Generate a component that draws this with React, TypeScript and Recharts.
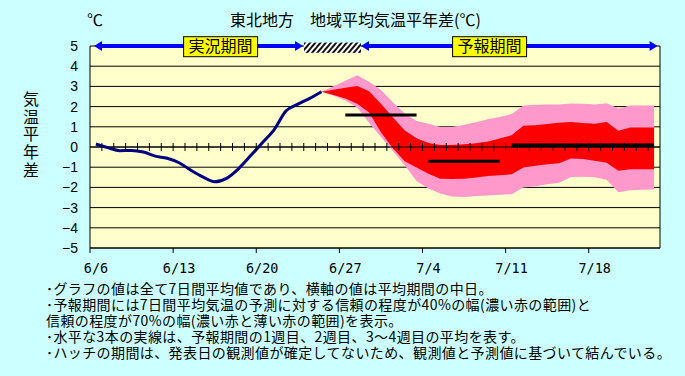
import React from 'react';
import {
  ComposedChart, Area, Line, Scatter, XAxis, YAxis, CartesianGrid,
  ReferenceLine, ReferenceArea, ReferenceDot,
} from 'recharts';

// ---- data ----
const xLabels = ['6/6', '6/13', '6/20', '6/27', '7/4', '7/11', '7/18'];
const yTicks = [-5, -4, -3, -2, -1, 0, 1, 2, 3, 4, 5];
const dayCount = 48; // 6/6 .. 7/23

// observed 7-day mean anomaly, 6/6 .. 6/25
const observed = [0.15, -0.03, -0.18, -0.17, -0.25, -0.45, -0.56, -0.78, -1.15, -1.48,
  -1.72, -1.55, -1.08, -0.45, 0.2, 0.85, 1.78, 2.12, 2.41, 2.74];

// forecast bands, 6/25 .. 7/23
const forecastStart = 19;
const pinkUpper = [2.74, 3.01, 3.28, 3.55, 3.23, 2.82, 2.22, 1.66, 1.29, 1.15, 0.99, 0.99,
  1.1, 1.23, 1.37, 1.49, 1.62, 2.05, 2.09, 2.1, 2.11, 2.15, 2.14, 2.11, 2.16, 1.9, 2.06, 2.06, 2.06];
const redUpper = [2.74, 2.83, 2.93, 3.02, 2.76, 2.14, 1.47, 0.82, 0.43, 0.2, 0.1, 0.1,
  0.13, 0.18, 0.27, 0.42, 0.58, 1.05, 1.08, 1.14, 1.2, 1.24, 1.19, 1.15, 1.24, 0.8, 0.96, 0.96, 0.96];
const redLower = [2.74, 2.57, 2.4, 2.14, 1.71, 0.73, -0.06, -0.7, -1.02, -1.33, -1.57, -1.59,
  -1.57, -1.51, -1.44, -1.4, -1.35, -1.01, -0.93, -0.86, -0.8, -0.57, -0.59, -0.68, -0.78, -1.17, -1.1, -1.1, -1.1];
const pinkLower = [2.74, 2.55, 2.3, 1.95, 1.2, 0.5, -0.2, -0.9, -1.68, -2.05, -2.3, -2.45,
  -2.47, -2.42, -2.4, -2.37, -2.34, -2.0, -1.94, -1.85, -1.77, -1.48, -1.47, -1.5, -1.62, -2.24, -2.14, -2.12, -2.1];

// week means (1st week, 2nd week, 3rd-4th week)
const weekMeans = [1.58, -0.71, 0.08];
const weekStart = [21, 28, 35];
const weekEnd = [27, 34, 47];

// period annotations (in day-index units)
const obsPeriod = [-0.16, 17.44];
const hatchPeriod = [17.52, 22.32];
const fcPeriod = [22.32, 47.3];
const obsLabelPos = 10.5;
const fcLabelPos = 33.15;

const notes = [
  '･グラフの値は全て7日間平均値であり、横軸の値は平均期間の中日。',
  '･予報期間には7日間平均気温の予測に対する信頼の程度が40%の幅(濃い赤の範囲)と',
  '信頼の程度が70%の幅(濃い赤と薄い赤の範囲)を表示。',
  '･水平な3本の実線は、予報期間の1週目、2週目、3～4週目の平均を表す。',
  '･ハッチの期間は、発表日の観測値が確定してないため、観測値と予測値に基づいて結んでいる。',
];

const data = Array.from({ length: dayCount }, (_, i) => {
  const f = i - forecastStart;
  const inF = f >= 0 && f < pinkUpper.length;
  const row: any = {
    i,
    obs: i < observed.length ? observed[i] : null,
    pink: inF ? [pinkLower[f], pinkUpper[f]] : null,
    red: inF ? [redLower[f], redUpper[f]] : null,
  };
  weekMeans.forEach((m, k) => {
    row['w' + k] = i >= weekStart[k] && i <= weekEnd[k] ? m : null;
  });
  return row;
});

const xTickPos = xLabels.map((_, k) => k * 7 - 0.5);
const zeroTicks = Array.from({ length: dayCount - 1 }, (_, k) => ({ i: k + 0.5, z: 0 }));

const JP = '"Noto Sans CJK JP", sans-serif';

const XTick = (props: any) => {
  const { x, y, payload } = props;
  const idx = Math.round((payload.value + 0.5) / 7);
  return (
    <text x={x + 6} y={y} dy="0.71em" textAnchor="middle" fontFamily='"DejaVu Sans Mono", monospace'
      fontSize={13.5} fill="#000">{xLabels[idx]}</text>
  );
};

const Arrow = (p: any) => {
  const { x1, y1, x2 } = p;
  const h = 8, w = 5;
  return (
    <g>
      <line x1={x1 + h - 1} y1={y1} x2={x2 - h + 1} y2={y1} stroke="#0000FF" strokeWidth={4} />
      <polygon points={`${x1},${y1} ${x1 + h},${y1 - w} ${x1 + h},${y1 + w}`} fill="#0000FF" />
      <polygon points={`${x2},${y1} ${x2 - h},${y1 - w} ${x2 - h},${y1 + w}`} fill="#0000FF" />
    </g>
  );
};

const Hatch = (p: any) => {
  const { x, y, width, height } = p;
  return (
    <g>
      <defs>
        <pattern id="hatchPat" width="4" height="4" patternUnits="userSpaceOnUse" patternTransform="rotate(40)">
          <rect width="4" height="4" fill="#ffffff" />
          <rect width="2" height="4" fill="#111111" />
        </pattern>
      </defs>
      <rect x={x} y={y} width={width} height={height} fill="url(#hatchPat)" />
    </g>
  );
};

const LabelBox = (text: string) => (p: any) => {
  const { cx, cy } = p;
  const bw = 74, bh = 20;
  return (
    <g>
      <rect x={cx - bw / 2} y={cy - bh / 2 + 0.7} width={bw} height={bh} fill="#FFFF00" stroke="#000" strokeWidth={1} />
      <text x={cx} y={cy + 0.7} dy="0.36em" textAnchor="middle" fontFamily={JP} fontSize={16} fill="#000">{text}</text>
    </g>
  );
};

const ZeroTick = (p: any) => {
  const { cx, cy } = p;
  return <line x1={cx} x2={cx} y1={cy - 4} y2={cy + 4} stroke="#000" strokeWidth={1} />;
};

export default function App() {
  return (
    <div style={{ position: 'absolute', left: 0, top: 0, width: 685, height: 376, background: '#CCFFFF', overflow: 'hidden' }}>
      <ComposedChart width={685} height={376} data={data}
        margin={{ top: 46, right: 25, bottom: 98, left: 40 }}>
        <CartesianGrid vertical={false} stroke="#000" strokeOpacity={1} fill="#FFFFCC" fillOpacity={1} />
        <XAxis dataKey="i" type="number" domain={[-0.5, dayCount - 0.5]} ticks={xTickPos}
          allowDataOverflow interval={0} height={30} tick={XTick}
          tickSize={5} tickMargin={10} axisLine={{ stroke: '#000' }} tickLine={{ stroke: '#000' }} />
        <YAxis type="number" domain={[-5, 5]} ticks={yTicks} interval={0} width={50}
          allowDataOverflow tickLine={false} tickSize={6} tickMargin={6}
          axisLine={{ stroke: '#000' }}
          tick={{ fontFamily: '"Liberation Sans", Arial, sans-serif', fontSize: 14, fill: '#000' }}
          tickFormatter={(v: number) => (v < 0 ? '\u2212' + Math.abs(v) : String(v))} />
        <Area dataKey="pink" type="linear" stroke="none" fill="#FF99CC" fillOpacity={1} isAnimationActive={false} />
        <Area dataKey="red" type="linear" stroke="none" fill="#FF0000" fillOpacity={1} isAnimationActive={false} />
        <ReferenceLine y={0} stroke="#000" strokeWidth={1} />
        <Scatter data={zeroTicks} dataKey="z" shape={ZeroTick} isAnimationActive={false} />
        <Line dataKey="obs" type="monotone" stroke="#000080" strokeWidth={3} dot={false} isAnimationActive={false} />
        <Line dataKey="w0" type="linear" stroke="#000" strokeWidth={3} dot={false} isAnimationActive={false} />
        <Line dataKey="w1" type="linear" stroke="#000" strokeWidth={3} dot={false} isAnimationActive={false} />
        <Line dataKey="w2" type="linear" stroke="#000" strokeWidth={4} dot={false} isAnimationActive={false} />
        <ReferenceLine x={dayCount - 0.5} stroke="#000" strokeWidth={1} ifOverflow="visible" />
        <ReferenceArea x1={hatchPeriod[0]} x2={hatchPeriod[1]} y1={4.66} y2={5.17} ifOverflow="visible" shape={Hatch} />
        <ReferenceLine segment={[{ x: obsPeriod[0], y: 5 }, { x: obsPeriod[1], y: 5 }]} ifOverflow="visible" shape={Arrow} />
        <ReferenceLine segment={[{ x: fcPeriod[0], y: 5 }, { x: fcPeriod[1], y: 5 }]} ifOverflow="visible" shape={Arrow} />
        <ReferenceDot x={obsLabelPos} y={5} r={0} ifOverflow="visible" shape={LabelBox('実況期間')} />
        <ReferenceDot x={fcLabelPos} y={5} r={0} ifOverflow="visible" shape={LabelBox('予報期間')} />
      </ComposedChart>

      <div style={{ position: 'absolute', left: 95, top: 8.7, transform: 'translateX(-50%)', fontFamily: JP, fontSize: 16, lineHeight: '20px', color: '#000', whiteSpace: 'nowrap' }}>℃</div>
      <div style={{ position: 'absolute', left: 355.5, top: 8.7, transform: 'translateX(-50%)', fontFamily: JP, fontSize: 16, lineHeight: '20px', color: '#000', whiteSpace: 'nowrap' }}>東北地方　地域平均気温平年差(℃)</div>
      <div style={{ position: 'absolute', left: 22, top: 91, writingMode: 'vertical-rl', fontFamily: JP, fontSize: 16, lineHeight: '18px', letterSpacing: '1.7px', color: '#000', whiteSpace: 'nowrap' }}>気温平年差</div>
      <div style={{ position: 'absolute', left: 46, top: 280.3, fontFamily: JP, fontSize: 14, letterSpacing: '0.4px', lineHeight: '16px', color: '#000', whiteSpace: 'pre' }}>
        {notes.join('\n')}
      </div>
    </div>
  );
}
